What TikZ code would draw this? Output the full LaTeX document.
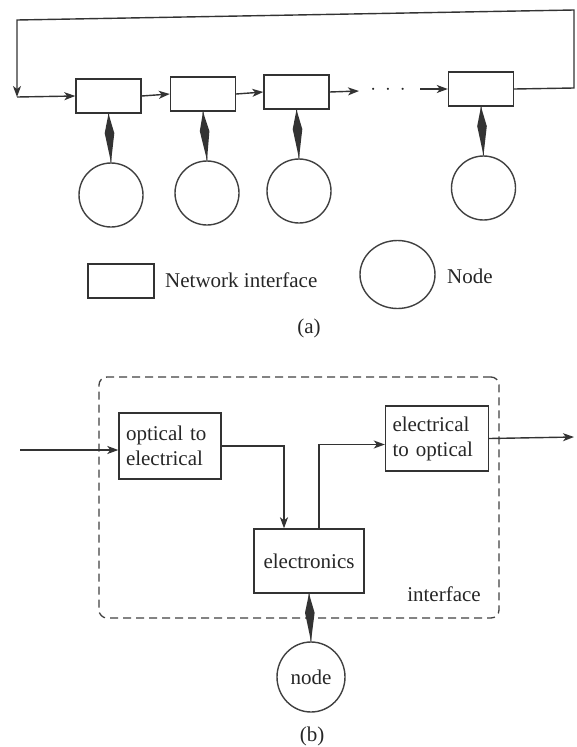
\documentclass[tikz,border=0pt]{standalone}
\usepackage{fontspec}
\setmainfont{Liberation Serif}
\usetikzlibrary{arrows.meta,calc,shapes.geometric}
\tikzset{
  ln/.style={draw=black!80, line width=1.4pt},
  arr/.style={ln, -{Stealth[length=11pt,width=8pt,inset=3pt]}},
  ibox/.style={draw=black!80, line width=1.4pt, rectangle, minimum width=65pt, minimum height=34pt, inner sep=0pt},
  nd/.style={draw=black!75, line width=1.4pt, ellipse, minimum width=64pt, minimum height=64pt, inner sep=0pt, text=black!85, font=\fontsize{21}{25}\selectfont},
  lbl/.style={text=black!85, font=\fontsize{21}{25}\selectfont, inner sep=0pt},
  tbox/.style={draw=black!80, line width=1.4pt, rectangle, inner sep=7pt, text=black!85, font=\fontsize{21}{25}\selectfont},
  frame/.style={draw=black!75, line width=1.3pt, dash pattern=on 8pt off 5pt, rounded corners=8pt, rectangle, inner sep=0pt},
}
\newcommand\mydiamlink[2]{%
  \draw[black!80, line width=1pt] (#1.south) -- (#2.north);
  \fill[black!80] (#1.south) -- ($(#1.south)!0.4!(#2.north)+(4.8pt,0)$) -- (#2.north) -- ($(#1.south)!0.4!(#2.north)+(-4.8pt,0)$) -- cycle;}
\begin{document}
\begin{tikzpicture}[x=1pt,y=1pt]
\useasboundingbox (0,0) rectangle (577,-747);
% ---------- (a) ----------
\node[ibox] (b1) at (108.5,-96) {};
\node[ibox] (b2) at (203,-94) {};
\node[ibox] (b3) at (296.5,-92) {};
\node[ibox] (b4) at (481,-89) {};
\node[nd] (c1) at (111,-195) {};
\node[nd] (c2) at (207,-193) {};
\node[nd] (c3) at (299,-191) {};
\node[nd] (c4) at (483.5,-188) {};
\coordinate (tr) at (574,-88);
\coordinate (tr2) at (574,-10);
\coordinate (tl) at (17,-20);
\coordinate (bl) at (17,-97);
\coordinate (d1) at (359,-91);
\coordinate (d2) at (420,-89);
\node[lbl] (dots) at (388,-90) {$\cdot$\hspace{9pt}$\cdot$\hspace{9pt}$\cdot$};
\draw[arr] (b4.east) -- (tr) -- (tr2) -- (tl) -- (bl);
\draw[arr] (bl) -- (b1.west);
\draw[arr] (b1.east) -- (b2.west);
\draw[arr] (b2.east) -- (b3.west);
\draw[arr] (b3.east) -- (d1);
\draw[arr] (d2) -- (b4.west);
\mydiamlink{b1}{c1}
\mydiamlink{b2}{c2}
\mydiamlink{b3}{c3}
\mydiamlink{b4}{c4}
% legend
\node[ibox, minimum width=66pt] (lb) at (121,-281) {};
\node[lbl, anchor=west] (lbt) at (165,-280) {Network interface};
\node[nd, minimum width=75pt, minimum height=68pt] (lc) at (397.5,-274.5) {};
\node[lbl, anchor=west] (lct) at (447,-276) {Node};
\node[lbl] (capa) at (309,-328) {(a)};
% ---------- (b) ----------
\node[frame, minimum width=400pt, minimum height=241pt] (fr) at (299,-497.5) {};
\node[tbox, text width=88pt, minimum height=66pt, align=left] (oe) at (170,-446) {optical to\\electrical};
\node[tbox, text width=89pt, minimum height=65pt, align=left] (eo) at (437,-438.5) {electrical\\to optical};
\node[tbox, minimum width=110pt, minimum height=64pt] (el) at (309,-561) {electronics};
\node[lbl] (ifl) at (444,-594) {interface};
\node[nd, minimum width=68pt, minimum height=70pt] (nn) at (311,-677) {node};
\node[lbl] (capb) at (312,-736) {(b)};
\coordinate (in) at (20,-450);
\coordinate (out) at (574,-437);
\draw[arr] (in) -- (in -| oe.west);
\draw[arr] (eo.east) -- (out);
\draw[arr] (oe.east) -| ($(el.north)+(-25,0)$);
\draw[arr] ($(el.north)+(10,0)$) |- ($(eo.west)+(0,-6)$);
\mydiamlink{el}{nn}
\end{tikzpicture}
\end{document}
